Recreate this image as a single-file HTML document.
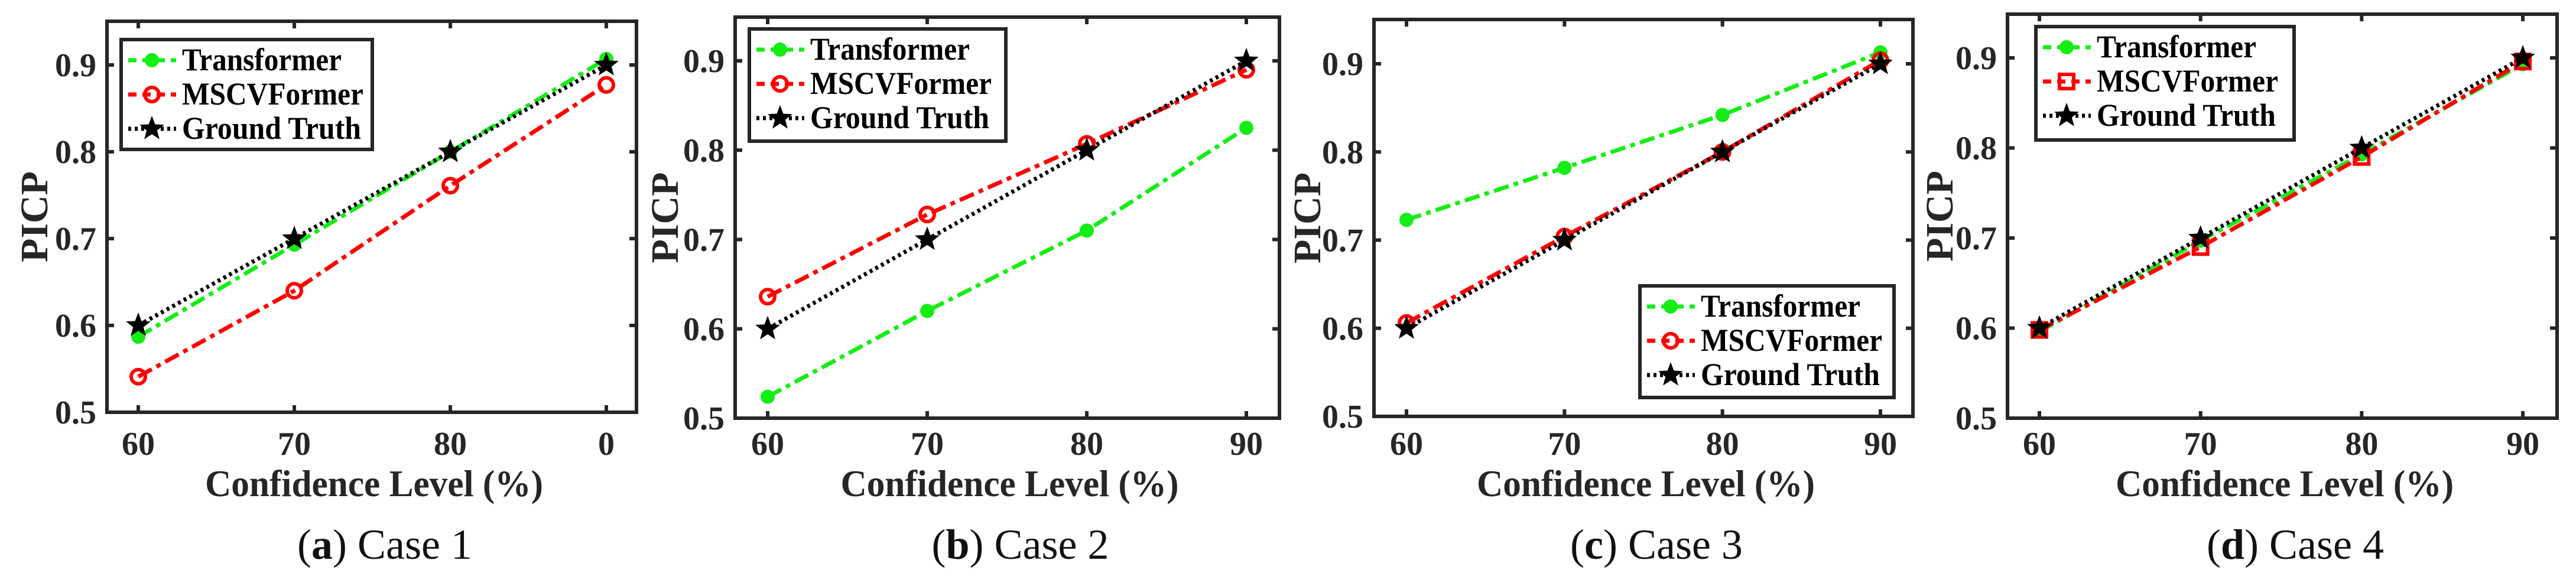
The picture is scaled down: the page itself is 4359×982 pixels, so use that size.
<!DOCTYPE html>
<html><head><meta charset="utf-8">
<style>
html,body{margin:0;padding:0;background:#fff;}
svg{display:block;}
svg text{font-family:"Liberation Serif","Times New Roman",serif;}
</style></head>
<body>
<svg id="chart" width="4359" height="982" viewBox="0 0 4359 982" xmlns="http://www.w3.org/2000/svg" font-family="'Liberation Serif', serif"></svg>
<script>
// ---- data ----
const confidenceLevels = [60, 70, 80, 90];
const xTickLabelsA = ["60", "70", "80", "0"];
const xTickLabels = ["60", "70", "80", "90"];
const yTicks = [0.5, 0.6, 0.7, 0.8, 0.9];
const yTickLabels = ["0.5", "0.6", "0.7", "0.8", "0.9"];
const seriesNames = ["Transformer", "MSCVFormer", "Ground Truth"];
const case1Transformer = [0.587, 0.693, 0.800, 0.907];
const case1MSCV = [0.541, 0.640, 0.761, 0.877];
const case2Transformer = [0.524, 0.620, 0.710, 0.825];
const case2MSCV = [0.636, 0.728, 0.807, 0.890];
const case3Transformer = [0.723, 0.782, 0.842, 0.913];
const case3MSCV = [0.606, 0.704, 0.800, 0.904];
const case4Transformer = [0.596, 0.697, 0.793, 0.893];
const case4MSCV = [0.598, 0.690, 0.790, 0.896];
const groundTruth = [0.6, 0.7, 0.8, 0.9];
const captionLetters = ["a", "b", "c", "d"];
const captionTexts = ["Case 1", "Case 2", "Case 3", "Case 4"];

const NS = "http://www.w3.org/2000/svg";
const FONT = "'Liberation Serif', 'Times New Roman', serif";
const svg = document.getElementById("chart");
const AX = "#262626";
function mk(tag, attrs, parent) {
  const e = document.createElementNS(NS, tag);
  for (const k in attrs) e.setAttribute(k, attrs[k]);
  if (tag === "text") e.setAttribute("font-family", FONT);
  (parent || svg).appendChild(e);
  return e;
}
function starPts(cx, cy, R) {
  const r = R * 0.42; let p = [];
  for (let i = 0; i < 10; i++) {
    const a = -Math.PI / 2 + i * Math.PI / 5, rr = i % 2 ? r : R;
    p.push((cx + rr * Math.cos(a)).toFixed(1) + "," + (cy + rr * Math.sin(a)).toFixed(1));
  }
  return p.join(" ");
}
function marker(g, type, x, y, color) {
  let m;
  if (type === "dot") { m = mk("circle", {cx: x, cy: y, r: 11, fill: color, stroke: color, "stroke-width": 2}, g); }
  else if (type === "circle") { m = mk("circle", {cx: x, cy: y, r: 12, fill: "none", stroke: color, "stroke-width": 6}, g); }
  else if (type === "square") { m = mk("rect", {x: x - 12, y: y - 12, width: 24, height: 24, fill: "none", stroke: color, "stroke-width": 6}, g); }
  else { m = mk("polygon", {points: starPts(x, y, 22), fill: "#000"}, g); }
  return m;
}
const styles = [
  {color: "#14ee14", dash: "26 9 8 9", marker: "dot"},
  {color: "#ff0000", dash: "26 9 8 9", marker: "circle"},
  {color: "#000000", dash: "5 6", marker: "star"}
];

const panels = [
  {L: 181, R: 1077, T: 36, B: 698, x60: 234, x90: 1026, y9: 110, ticks: xTickLabelsA, data: [case1Transformer, case1MSCV, groundTruth], leg: {x: 205, y: 67, w: 425, h: 186}, ylx: 58, sq: false},
  {L: 1244, R: 2165, T: 29, B: 708, x60: 1299, x90: 2109, y9: 103, ticks: xTickLabels, data: [case2Transformer, case2MSCV, groundTruth], leg: {x: 1268, y: 49, w: 434, h: 190}, ylx: 1125, sq: false},
  {L: 2325, R: 3237, T: 33, B: 705, x60: 2380, x90: 3182, y9: 108, ticks: xTickLabels, data: [case3Transformer, case3MSCV, groundTruth], leg: {x: 2775, y: 484, w: 430, h: 189}, ylx: 2212, sq: false},
  {L: 3397, R: 4327, T: 24, B: 708, x60: 3451, x90: 4269, y9: 98, ticks: xTickLabels, data: [case4Transformer, case4MSCV, groundTruth], leg: {x: 3445, y: 45, w: 437, h: 192}, ylx: 3282, sq: true}
];

panels.forEach((P, pi) => {
  const g = mk("g", {});
  
  
  const xs = v => P.x60 + (v - confidenceLevels[0]) / (confidenceLevels[3] - confidenceLevels[0]) * (P.x90 - P.x60);
  const ys = v => P.B - (v - 0.5) / 0.4 * (P.B - P.y9);

  const box = mk("rect", {x: P.L, y: P.T, width: P.R - P.L, height: P.B - P.T, fill: "none", stroke: AX, "stroke-width": 6}, g);
  
  

  confidenceLevels.forEach((c, i) => {
    const x = xs(c);
    mk("line", {x1: x, y1: P.B, x2: x, y2: P.B - 12, stroke: AX, "stroke-width": 6}, g);
    mk("line", {x1: x, y1: P.T, x2: x, y2: P.T + 12, stroke: AX, "stroke-width": 6}, g);
    const t = mk("text", {x: x, y: 770, "font-size": 56, "font-weight": "bold", fill: AX, "text-anchor": "middle"}, g);
    t.textContent = P.ticks[i];
    
    
  });
  yTicks.forEach((v, i) => {
    const y = ys(v);
    mk("line", {x1: P.L, y1: y, x2: P.L + 12, y2: y, stroke: AX, "stroke-width": 6}, g);
    mk("line", {x1: P.R, y1: y, x2: P.R - 12, y2: y, stroke: AX, "stroke-width": 6}, g);
    const t = mk("text", {x: P.L - 18, y: y + 19, "font-size": 56, "font-weight": "bold", fill: AX, "text-anchor": "end"}, g);
    t.textContent = yTickLabels[i];
    
    
  });
  const xt = mk("text", {x: (P.L + P.R) / 2 + 4, y: 840, "font-size": 64, "font-weight": "bold", fill: AX, "text-anchor": "middle", textLength: 572, lengthAdjust: "spacingAndGlyphs"}, g);
  xt.textContent = "Confidence Level (%)";
  
  
  const yc = (P.T + P.B) / 2;
  const yt = mk("text", {x: 0, y: 0, "font-size": 66, "font-weight": "bold", fill: AX, "text-anchor": "middle", transform: "translate(" + (P.ylx + 22) + "," + yc + ") rotate(-90)"}, g);
  yt.textContent = "PICP";
  
  

  P.data.forEach((arr, si) => {
    const st = styles[si];
    const sg = mk("g", {}, g);
    
    
    const pts = arr.map((v, i) => xs(confidenceLevels[i]).toFixed(1) + "," + ys(v).toFixed(1)).join(" ");
    mk("polyline", {points: pts, fill: "none", stroke: st.color, "stroke-width": 7, "stroke-dasharray": st.dash}, sg);
    arr.forEach((v, i) => {
      const type = (si === 1 && P.sq) ? "square" : st.marker;
      const m = marker(sg, type, xs(confidenceLevels[i]), ys(v), st.color);
      
      
    });
  });

  const L = P.leg;
  const lg = mk("g", {}, g);
  
  
  mk("rect", {x: L.x, y: L.y, width: L.w, height: L.h, fill: "#fff", stroke: AX, "stroke-width": 6}, lg);
  const widths = [270, 307, 303];
  seriesNames.forEach((n, si) => {
    const st = styles[si];
    const cy = L.y + 35 + si * 58;
    const le = mk("g", {}, lg);
    
    
    mk("line", {x1: L.x + 12, y1: cy, x2: L.x + 93, y2: cy, stroke: st.color, "stroke-width": 7, "stroke-dasharray": si === 2 ? "5 6" : "14 10"}, le);
    marker(le, (si === 1 && P.sq) ? "square" : st.marker, L.x + 52, cy, st.color);
    const t = mk("text", {x: L.x + 103, y: cy + 17, "font-size": 54, "font-weight": "bold", fill: "#000", textLength: widths[si], lengthAdjust: "spacingAndGlyphs"}, le);
    t.textContent = n;
  });

  const cap = mk("text", {x: (P.L + P.R) / 2 + 22, y: 946, "font-size": 72, fill: "#111", "text-anchor": "middle"}, g);
  
  
  const s1 = mk("tspan", {}, cap); s1.textContent = "(";
  const s2 = mk("tspan", {"font-weight": "bold"}, cap); s2.textContent = captionLetters[pi];
  const s3 = mk("tspan", {}, cap); s3.textContent = ") " + captionTexts[pi];
});
</script>
</body></html>
